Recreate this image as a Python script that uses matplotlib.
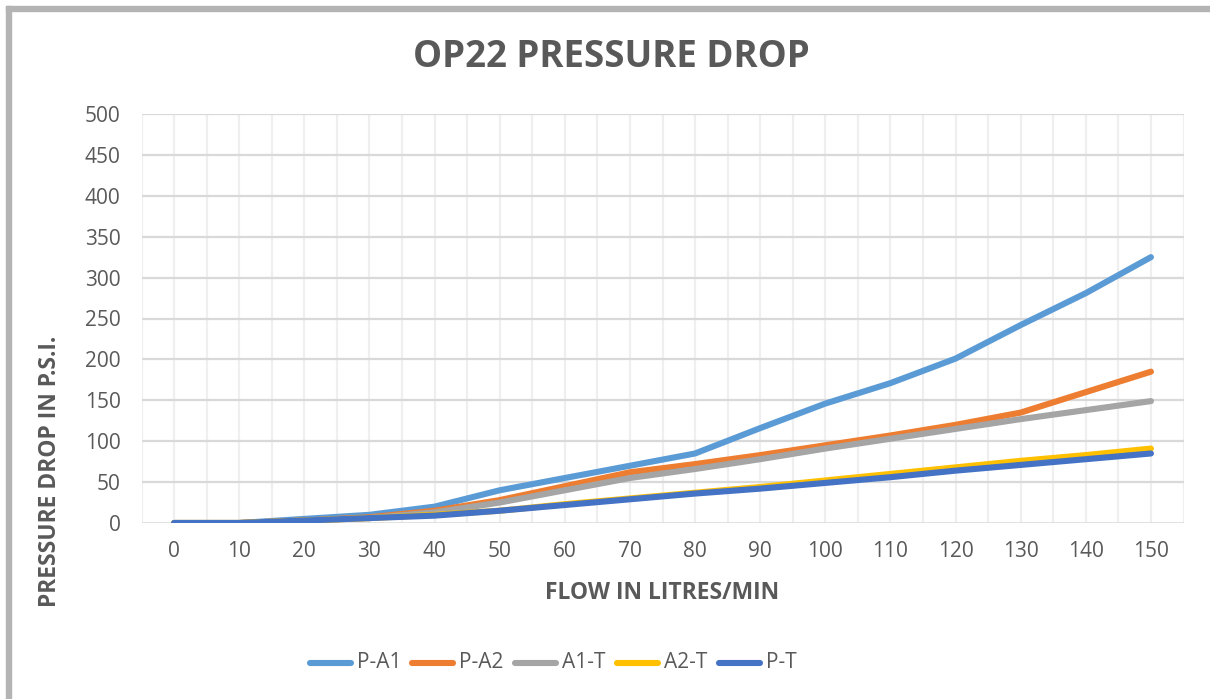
import matplotlib
matplotlib.use("Agg")
import matplotlib.pyplot as plt
from matplotlib.patches import Rectangle
from matplotlib.lines import Line2D

flow = [0, 10, 20, 30, 40, 50, 60, 70, 80, 90, 100, 110, 120, 130, 140, 150]
p_a1 = [0, 0, 5, 10, 20, 40, 55, 70, 85, 116, 146, 171, 201, 242, 281, 325]
p_a2 = [0, 0, 3, 7, 15, 28, 45, 62, 72, 83, 95, 107, 120, 135, 160, 185]
a1_t = [0, 0, 3, 6, 13, 25, 40, 55, 66, 78, 91, 103, 115, 127, 138, 149]
a2_t = [0, 0, 3, 6, 10, 15, 23, 30, 37, 44, 52, 60, 68, 76, 83, 91]
p_t = [0, 0, 3, 6, 9, 15, 22, 29, 36, 42, 49, 56, 64, 71, 78, 85]

names = ["P-A1", "P-A2", "A1-T", "A2-T", "P-T"]
colors = ["#5B9BD5", "#ED7D31", "#A5A5A5", "#FFC000", "#4472C4"]
values = [p_a1, p_a2, a1_t, a2_t, p_t]
yticks = [0, 50, 100, 150, 200, 250, 300, 350, 400, 450, 500]

W, H = 1210, 699
fig = plt.figure(figsize=(W / 100, H / 100), dpi=100)
fam = ["Open Sans", "DejaVu Sans"]
txt = "#595959"

# outer border (top and left visible)
fig.patches.append(Rectangle((6 / W, 0), 5 / W, 1 - 6 / H, transform=fig.transFigure,
                             color="#B4B4B4", zorder=0))
fig.patches.append(Rectangle((6 / W, 1 - 11 / H), 1 - 6 / W, 5 / H, transform=fig.transFigure,
                             color="#B4B4B4", zorder=0))

ax = fig.add_axes([141.5 / W, 1 - 523 / H, (1183.5 - 141.5) / W, (523 - 114) / H])
n = len(flow)
xs = list(range(n))
ax.set_xlim(-0.5, n - 0.5)
ax.set_ylim(0, 500)

for i in range(2 * n + 1):
    ax.axvline(-0.5 + 0.5 * i, color="#EFEFEF", lw=1.6, zorder=1)
for v in yticks[1:]:
    ax.axhline(v, color="#D9D9D9", lw=1.6, zorder=1)
ax.axhline(0, color="#D9D9D9", lw=1.8, zorder=1)

for name, vals, col in zip(names, values, colors):
    ax.plot(xs, vals, color=col, lw=4.4, solid_capstyle="round",
            solid_joinstyle="round", zorder=3, label=name)

for s in ax.spines.values():
    s.set_visible(False)
ax.set_xticks(xs)
ax.set_xticklabels([str(f) for f in flow], fontsize=15, color=txt, family=fam)
ax.set_yticks(yticks)
ax.set_yticklabels([str(v) for v in yticks], fontsize=15, color=txt, family=fam)
ax.tick_params(axis="x", length=0, pad=13)
ax.tick_params(axis="y", length=0, pad=15)

fig.text(611 / W, 1 - 57 / H, "OP22 PRESSURE DROP", ha="center", va="center",
         fontsize=26.4, fontweight="bold", color=txt, family=fam)
fig.text(662 / W, 1 - 593 / H, "FLOW IN LITRES/MIN", ha="center", va="center",
         fontsize=16.5, fontweight="bold", color=txt, family=fam)
fig.text(50 / W, 1 - 471 / H, "PRESSURE DROP IN P.S.I.", ha="center", va="center",
         rotation=90, fontsize=16.5, fontweight="bold", color=txt, family=fam)

# legend, laid out like the Excel legend
for i, (name, col) in enumerate(zip(names, colors)):
    x0 = 310 + 102.3 * i
    fig.add_artist(Line2D([x0 / W, (x0 + 41) / W], [1 - 663 / H, 1 - 663 / H],
                          transform=fig.transFigure, color=col, lw=4.4,
                          solid_capstyle="round"))
    fig.text((x0 + 47) / W, 1 - 663 / H, name, ha="left", va="center",
             fontsize=15, color=txt, family=fam)

fig.savefig("out.png", dpi=100)
